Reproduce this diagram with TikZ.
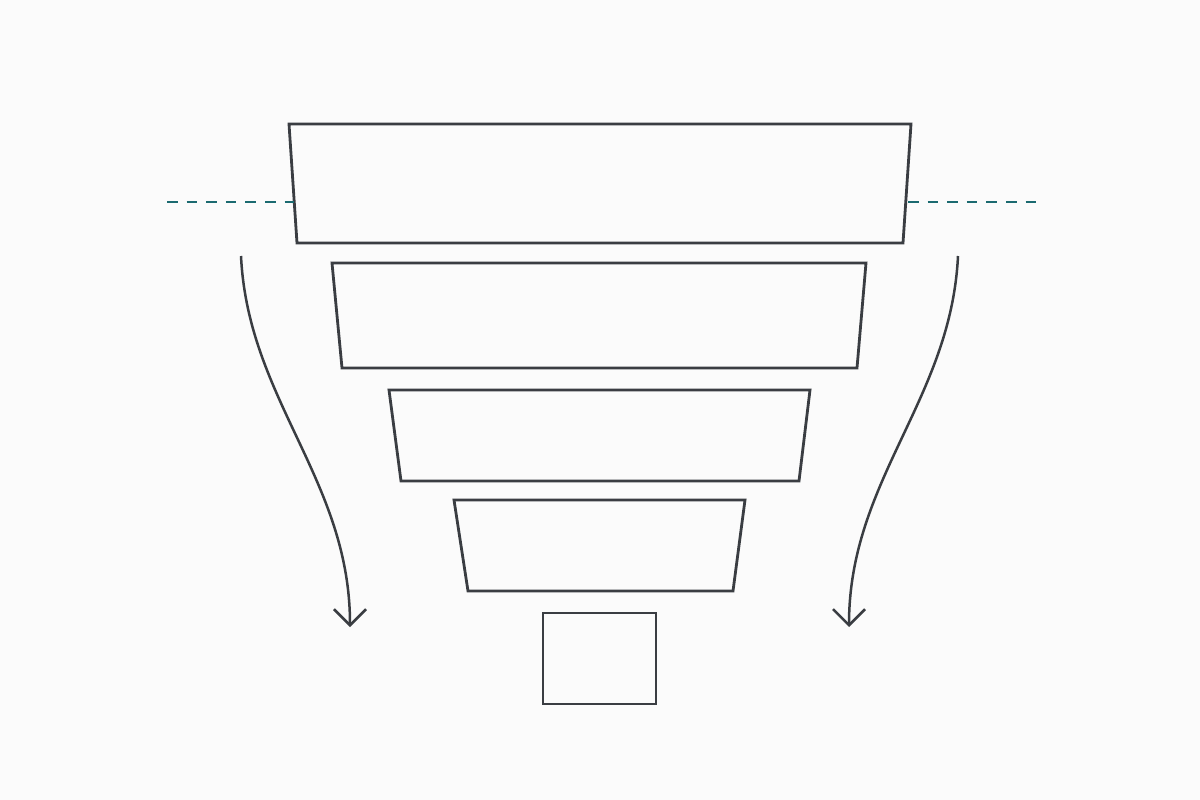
\documentclass[tikz,border=0pt]{standalone}
\usetikzlibrary{arrows.meta}
\definecolor{ink}{HTML}{3A3D42}
\definecolor{teal}{HTML}{1B6A70}
\definecolor{bg}{HTML}{FBFBFB}
\begin{document}
\begin{tikzpicture}[x=1pt,y=-1pt,
  tier/.style={draw=ink,line width=2.8pt,line join=miter},
  guide/.style={draw=teal,line width=2.6pt,dash pattern=on 10.5pt off 9.1pt},
  flow/.style={draw=ink,line width=2.5pt,-{Straight Barb[length=16pt,width=32pt,line width=2.5pt]}}]
\fill[bg] (0,0) rectangle (1200,800);
\useasboundingbox (0,0) rectangle (1200,800);
% tiers
\draw[tier] (289,124) -- (911,124) -- (903,243) -- (297,243) -- cycle;
\draw[tier] (332,263) -- (866,263) -- (857,368) -- (342,368) -- cycle;
\draw[tier] (389,390) -- (810,390) -- (799,481) -- (401,481) -- cycle;
\draw[tier] (454,500) -- (745,500) -- (733,591) -- (468,591) -- cycle;
\draw[tier] (543,613) rectangle (656,704);
% dashed guides
\coordinate (gl0) at (167,202);
\coordinate (gl1) at (293.5,202);
\coordinate (gr0) at (908,202);
\coordinate (gr1) at (1036,202);
\draw[guide] (gl0) -- (gl1);
\draw[guide] (gr0) -- (gr1);
% arrows
\coordinate (al0) at (241,256);
\coordinate (al1) at (350,627);
\coordinate (ar0) at (958,256);
\coordinate (ar1) at (849,627);
\draw[flow] (al0) .. controls (248,400) and (350,480) .. (al1);
\draw[flow] (ar0) .. controls (951,400) and (849,480) .. (ar1);
\end{tikzpicture}
\end{document}
